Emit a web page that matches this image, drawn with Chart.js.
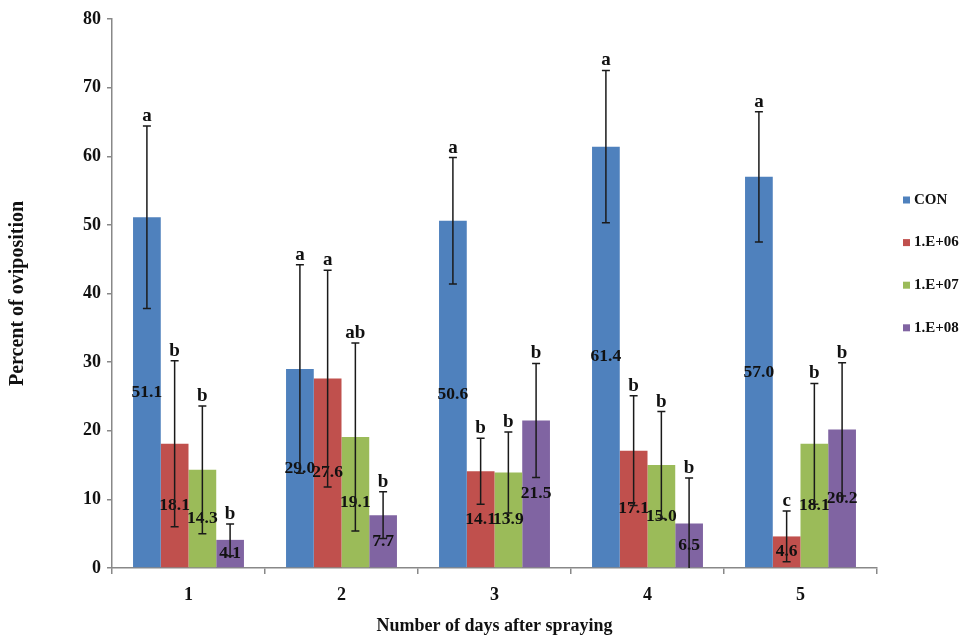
<!DOCTYPE html>
<html>
<head>
<meta charset="utf-8">
<script src="https://cdn.jsdelivr.net/npm/chart.js@4.4.0/dist/chart.umd.min.js"></script>
<style>
  body { margin: 0; background: #fff; }
  #wrap { width: 960px; height: 637px; }
</style>
</head>
<body>
<div id="wrap"><canvas id="myChart" width="960" height="637"></canvas></div>
<script>
  const days = ['1', '2', '3', '4', '5'];
  const seriesNames = ['CON', '1.E+06', '1.E+07', '1.E+08'];
  const colors = ['#4F81BD', '#C0504D', '#9BBB59', '#8064A2'];

  const con = [51.1, 29.0, 50.6, 61.4, 57.0];
  const e06 = [18.1, 27.6, 14.1, 17.1, 4.6];
  const e07 = [14.3, 19.1, 13.9, 15.0, 18.1];
  const e08 = [4.1, 7.7, 21.5, 6.5, 20.2];

  const conErr = [13.3, 15.2, 9.2, 11.1, 9.5];
  const e06Err = [12.1, 15.8, 4.8, 8.0, 3.7];
  const e07Err = [9.3, 13.7, 5.9, 7.8, 8.8];
  const e08Err = [2.3, 3.4, 8.3, 6.6, 9.7];

  const conLetters = ['a', 'a', 'a', 'a', 'a'];
  const e06Letters = ['b', 'a', 'b', 'b', 'c'];
  const e07Letters = ['b', 'ab', 'b', 'b', 'b'];
  const e08Letters = ['b', 'b', 'b', 'b', 'b'];

  const yTicks = [0, 10, 20, 30, 40, 50, 60, 70, 80];

  const values = [con, e06, e07, e08];
  const errors = [conErr, e06Err, e07Err, e08Err];
  const letters = [conLetters, e06Letters, e07Letters, e08Letters];

  const serif = '"Liberation Serif", "Times New Roman", serif';

  // value labels, error bars, significance letters
  const barMarks = {
    id: 'barMarks',
    afterDatasetsDraw(chart) {
      const ctx = chart.ctx;
      const y = chart.scales.y;
      ctx.save();
      chart.data.datasets.forEach((ds, i) => {
        const meta = chart.getDatasetMeta(i);
        meta.data.forEach((bar, j) => {
          const v = ds.data[j];
          ctx.fillStyle = '#111';
          ctx.font = 'bold 17.5px ' + serif;
          ctx.textAlign = 'center';
          ctx.textBaseline = 'middle';
          ctx.fillText(v.toFixed(1), bar.x, (bar.y + bar.base) / 2);
        });
      });
      chart.data.datasets.forEach((ds, i) => {
        const meta = chart.getDatasetMeta(i);
        meta.data.forEach((bar, j) => {
          const v = ds.data[j];
          const e = errors[i][j];
          const top = y.getPixelForValue(v + e);
          const lowV = v - e;
          const bot = y.getPixelForValue(Math.max(0, lowV));
          ctx.strokeStyle = '#1a1a1a';
          ctx.lineWidth = 1.5;
          ctx.beginPath();
          ctx.moveTo(bar.x, top);
          ctx.lineTo(bar.x, bot);
          ctx.moveTo(bar.x - 4, top);
          ctx.lineTo(bar.x + 4, top);
          if (lowV > 0) {
            ctx.moveTo(bar.x - 4, bot);
            ctx.lineTo(bar.x + 4, bot);
          }
          ctx.stroke();
          ctx.fillStyle = '#111';
          ctx.font = 'bold 19px ' + serif;
          ctx.textAlign = 'center';
          ctx.textBaseline = 'alphabetic';
          ctx.fillText(letters[i][j], bar.x, top - 5);
        });
      });
      ctx.restore();
    }
  };

  // legend on the right, Excel style
  const sideLegend = {
    id: 'sideLegend',
    afterDraw(chart) {
      const ctx = chart.ctx;
      const x0 = chart.chartArea.right + 26;
      ctx.save();
      ctx.font = 'bold 15px ' + serif;
      ctx.textBaseline = 'middle';
      ctx.textAlign = 'left';
      chart.data.datasets.forEach((ds, i) => {
        const yy = 200 + i * 42.6;
        ctx.fillStyle = ds.backgroundColor;
        ctx.fillRect(x0, yy - 3.5, 7, 7);
        ctx.fillStyle = '#111';
        ctx.fillText(ds.label, x0 + 11, yy);
      });
      ctx.restore();
    }
  };

  const data = {
    labels: days,
    datasets: values.map((vals, i) => ({
      label: seriesNames[i],
      data: vals,
      backgroundColor: colors[i],
      borderWidth: 0,
      categoryPercentage: 0.725,
      barPercentage: 1.0
    }))
  };

  const config = {
    type: 'bar',
    data: data,
    options: {
      responsive: false,
      animation: false,
      layout: { padding: { top: 19, right: 83, bottom: 0, left: 0 } },
      plugins: {
        legend: { display: false },
        tooltip: { enabled: false }
      },
      scales: {
        x: {
          afterFit: s => { s.height = 69; },
          grid: { drawOnChartArea: false, drawTicks: true, tickLength: 6, color: '#888', lineWidth: 1.5 },
          border: { color: '#888', width: 1.5 },
          ticks: { color: '#111', padding: 11, font: { family: serif, size: 18, weight: 'bold' } },
          title: {
            display: true,
            text: 'Number of days after spraying',
            color: '#111',
            padding: { top: 0, bottom: 0 },
            font: { family: serif, size: 18, weight: 'bold' }
          }
        },
        y: {
          min: 0,
          max: 80,
          afterFit: s => { s.width = 112; },
          afterBuildTicks: s => { s.ticks = yTicks.map(v => ({ value: v })); },
          grid: { drawOnChartArea: false, drawTicks: true, tickLength: 5, color: '#888', lineWidth: 1.5 },
          border: { color: '#888', width: 1.5 },
          ticks: { color: '#111', padding: 6, font: { family: serif, size: 18, weight: 'bold' } },
          title: {
            display: true,
            text: 'Percent of oviposition',
            color: '#111',
            padding: { top: 6, bottom: 0 },
            font: { family: serif, size: 20, weight: 'bold' }
          }
        }
      }
    },
    plugins: [barMarks, sideLegend]
  };

  const myChart = new Chart(
    document.getElementById('myChart'),
    config
  );
</script>
</body>
</html>
